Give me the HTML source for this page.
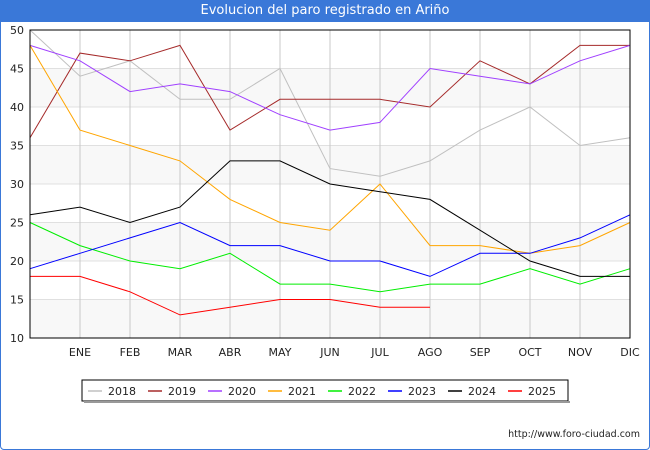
<!DOCTYPE html>
<html><head><meta charset="utf-8"><style>
body{margin:0;width:650px;height:450px;background:#fff;font-family:"DejaVu Sans","Liberation Sans",sans-serif;overflow:hidden}
#frame{position:absolute;left:0;top:0;width:648px;height:448px;border:1px solid #3a78d8;border-radius:4px}
#title{position:absolute;left:0;top:0;width:650px;height:22px;background:#3a78d8;color:#fff;font-size:13px;line-height:22px;text-align:center}
</style></head><body>
<div id="frame"></div>
<div id="title">Evolucion del paro registrado en Ariño</div>
<svg id="chart" width="650" height="450" style="position:absolute;left:0;top:0"></svg>
<script>
const categories=["","ENE","FEB","MAR","ABR","MAY","JUN","JUL","AGO","SEP","OCT","NOV","DIC"];
const yTicks=[10,15,20,25,30,35,40,45,50];
const seriesNames=["2018","2019","2020","2021","2022","2023","2024","2025"];
const seriesColors=["#c0c0c0","#a52a2a","#a040ff","#ffa500","#00ee00","#0000ff","#000000","#ff0000"];
const s2018=[50,44,46,41,41,45,32,31,33,37,40,35,36];
const s2019=[36,47,46,48,37,41,41,41,40,46,43,48,48];
const s2020=[48,46,42,43,42,39,37,38,45,44,43,46,48];
const s2021=[48,37,35,33,28,25,24,30,22,22,21,22,25];
const s2022=[25,22,20,19,21,17,17,16,17,17,19,17,19];
const s2023=[19,21,23,25,22,22,20,20,18,21,21,23,26];
const s2024=[26,27,25,27,33,33,30,29,28,24,20,18,18];
const s2025=[18,18,16,13,14,15,15,14,14];
const allSeries=[s2018,s2019,s2020,s2021,s2022,s2023,s2024,s2025];
const L=30,R=630,T=30,B=338,ymin=10,ymax=50;
const xs=i=>L+i*(R-L)/(categories.length-1);
const ys=v=>B-(v-ymin)*(B-T)/(ymax-ymin);
const svg=document.getElementById('chart');const NS="http://www.w3.org/2000/svg";
function mk(t,a,p){const e=document.createElementNS(NS,t);for(const k in a)e.setAttribute(k,a[k]);(p||svg).appendChild(e);return e;}
for(let i=0;i<yTicks.length-1;i++){if(i%2===0){const r=mk('rect',{x:L,y:ys(yTicks[i+1]),width:R-L,height:ys(yTicks[i])-ys(yTicks[i+1]),fill:'#f8f8f8'});}}
yTicks.forEach(v=>{const l=mk('line',{x1:L,x2:R,y1:ys(v),y2:ys(v),stroke:'#e0e0e0'});
const t=mk('text',{x:L-6,y:ys(v)+4,'text-anchor':'end','font-size':11,fill:'#222'});t.textContent=v;});
categories.forEach((c,i)=>{if(i>0){const l=mk('line',{x1:xs(i),x2:xs(i),y1:T,y2:B,stroke:'#c8c8c8'});}
const t=mk('text',{x:xs(i),y:B+18,'text-anchor':'middle','font-size':11,fill:'#222'});t.textContent=c;});
allSeries.forEach((s,k)=>{const p=mk('polyline',{points:s.map((v,i)=>xs(i)+','+ys(v)).join(' '),fill:'none',stroke:seriesColors[k],'stroke-width':1});});
const ax=mk('rect',{x:L,y:T,width:R-L,height:B-T,fill:'none',stroke:'#000'});
const lg=mk('rect',{x:82,y:380,width:486,height:21,fill:'#fff',stroke:'#000'});
const sh=mk('rect',{x:84,y:401,width:486,height:2,fill:'#999'});
seriesNames.forEach((n,k)=>{const x0=88+k*60;const g=mk('g',{});
mk('line',{x1:x0,x2:x0+14,y1:391,y2:391,stroke:seriesColors[k],'stroke-width':1.5},g);
const t=mk('text',{x:x0+20,y:395,'font-size':11,fill:'#222'},g);t.textContent=n;});
const u=mk('text',{x:640,y:437,'text-anchor':'end','font-size':9.5,fill:'#222'});u.textContent='http://www.foro-ciudad.com';
</script>
</body></html>
